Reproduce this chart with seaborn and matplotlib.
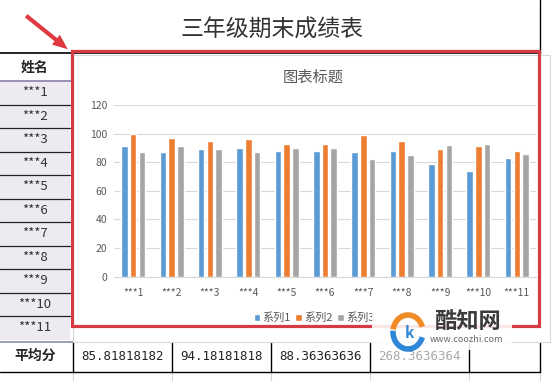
import numpy as np
import pandas as pd
import matplotlib
matplotlib.use('Agg')
import matplotlib.pyplot as plt
from matplotlib.patches import Rectangle, Arc
import seaborn as sns

# data
names = ['***1', '***2', '***3', '***4', '***5', '***6',
         '***7', '***8', '***9', '***10', '***11']
series = ['系列1', '系列2', '系列3']
s1 = [91, 87, 89, 90, 88, 88, 87, 88, 79, 74, 83]
s2 = [100, 97, 95, 96, 93, 93, 99, 95, 89, 91, 88]
s3 = [87, 91, 89, 87, 90, 90, 82, 85, 92, 93, 86]
yticks = [0, 20, 40, 60, 80, 100, 120]
colors = ['#5B9BD5', '#ED7D31', '#A5A5A5']

sheet_title = '三年级期末成绩表'
chart_title = '图表标题'
head_name = '姓名'
head_avg = '平均分'

df = pd.DataFrame({
    'name': names * 3,
    'score': s1 + s2 + s3,
    'series': np.repeat(series, len(names)),
})
avgs = [np.mean(s1), np.mean(s2), np.mean(s3)]
avgs.append(sum(avgs))

sns.set_style('white')
plt.rcParams['font.family'] = ['Noto Sans CJK SC', 'DejaVu Sans']

W, H = 553, 381
fig = plt.figure(figsize=(W / 100, H / 100), dpi=100)

# spreadsheet background, drawn in pixel coordinates
bg = fig.add_axes([0, 0, 1, 1], zorder=0)
bg.set_xlim(0, W)
bg.set_ylim(H, 0)
bg.axis('off')

cols = [73, 172, 271, 370, 469, 540]
for x in cols:
    bg.plot([x, x], [372, H], color='#D4D4D4', lw=0.8)
bg.plot([0, 540], [53, 53], color='black', lw=1.2)
bg.plot([540, 540], [0, 53], color='black', lw=1.0)
bg.text(272, 30, sheet_title, ha='center', va='center', fontsize=16.5, color='#333333')

bg.add_patch(Rectangle((0, 81), 70, 259, facecolor='#EDEAF2', edgecolor='none'))
row_h = 23.5
for i in range(1, len(names)):
    y = 81 + row_h * i
    bg.plot([0, 70], [y, y], color='#222222', lw=0.9)
bg.plot([0, 72], [81, 81], color='#8B7FA8', lw=1.2)
bg.text(35, 68, head_name, ha='center', va='center', fontsize=10, fontweight='bold')
for i, n in enumerate(names):
    bg.text(35, 81 + row_h * (i + 0.5), n, ha='center', va='center', fontsize=9.5, color='#333333')

# bottom average row
bg.plot([0, 540], [342, 342], color='#8B8FB0', lw=1.2)
bg.plot([0, 540], [372, 372], color='black', lw=1.0)
for x in cols:
    bg.plot([x, x], [342, 372], color='black', lw=1.0)
bg.text(35, 356, head_avg, ha='center', va='center', fontsize=10, fontweight='bold')
for i, v in enumerate(avgs):
    c = '#222222' if i < 3 else '#A8A8A8'
    bg.text((cols[i] + cols[i + 1]) / 2, 356, f'{v:.10g}', ha='center', va='center',
            fontsize=9, family='DejaVu Sans Mono', color=c)

# chart area
bg.add_patch(Rectangle((73, 55), 477, 287, facecolor='white', edgecolor='#D9D9D9', lw=0.8, zorder=3))
bg.text(313, 77, chart_title, ha='center', va='center', fontsize=11, color='#595959', zorder=4)

# the bar chart
ax = fig.add_axes([114 / W, (H - 276.7) / H, 422 / W, 171.7 / H], zorder=1)
ax.patch.set_alpha(0)
sns.barplot(data=df, x='name', y='score', hue='series', palette=colors,
            width=0.68, gap=0.25, ax=ax, saturation=1, errorbar=None)
ax.set_ylim(0, 120)
ax.set_yticks(yticks)
ax.set_xlabel('')
ax.set_ylabel('')
ax.yaxis.grid(True, color='#D9D9D9', lw=0.8)
ax.set_axisbelow(True)
for s in ['top', 'right', 'left']:
    ax.spines[s].set_visible(False)
ax.spines['bottom'].set_color('#D9D9D9')
ax.tick_params(axis='y', length=0, pad=5, labelsize=7.5, labelcolor='#595959')
ax.tick_params(axis='x', length=0, pad=8, labelsize=7.5, labelcolor='#595959')
sns.move_legend(ax, 'center', bbox_to_anchor=(314 / W, (H - 318) / H),
                bbox_transform=fig.transFigure, ncol=3, frameon=False, title=None,
                fontsize=8, handlelength=0.6, handleheight=0.6, handletextpad=0.2,
                columnspacing=0.4)
for t in ax.get_legend().get_texts():
    t.set_color('#595959')

# selection box, arrow and watermark on top
fg = fig.add_axes([0, 0, 1, 1], zorder=3)
fg.set_xlim(0, W)
fg.set_ylim(H, 0)
fg.axis('off')
fg.patch.set_alpha(0)
fg.add_patch(Rectangle((72, 51), 467, 275, fill=False, edgecolor='#D63B44', lw=2.3))
fg.annotate('', xy=(70, 51), xytext=(24, 14),
            arrowprops=dict(arrowstyle='simple,head_width=0.9,head_length=1.1,tail_width=0.3',
                            fc='#E0393F', ec='none'))
fg.add_patch(Rectangle((372, 302), 140, 48, facecolor='white', edgecolor='none', alpha=0.88, zorder=5))
fg.add_patch(Arc((408, 332), 30, 34, theta1=190, theta2=340, color='#F08A24', lw=4, zorder=6))
fg.add_patch(Arc((408, 332), 30, 34, theta1=20, theta2=185, color='#2E86D6', lw=4, zorder=6))
fg.text(409, 333, 'k', ha='center', va='center', fontsize=11, fontweight='bold', color='#2E86D6', zorder=6)
fg.text(467, 321, '酷知网', ha='center', va='center', fontsize=16, fontweight='bold', color='#3A3A3A', zorder=6)
fg.text(467, 339, 'www.coozhi.com', ha='center', va='center', fontsize=6.5, color='#666666', zorder=6)

fig.savefig('out.png', dpi=100)
